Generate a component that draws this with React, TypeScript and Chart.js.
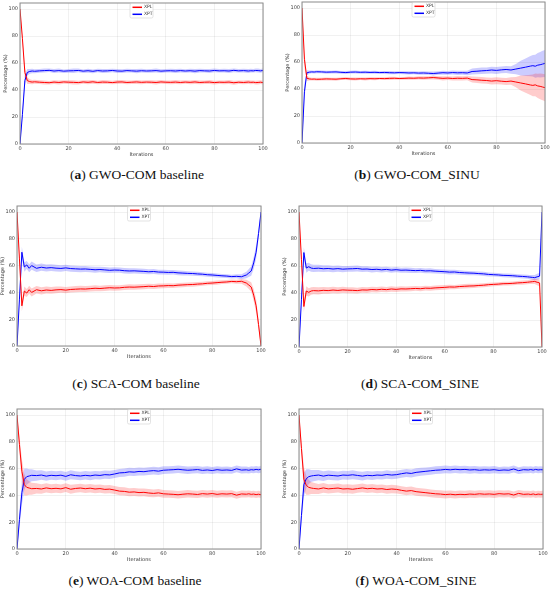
import { useEffect, useRef } from "react";
import { Chart, registerables } from "chart.js";
Chart.register(...registerables);

// ---------- data ----------
const ITERATIONS = [
  0, 1, 2, 3, 4, 5, 6,
  8, 10, 12, 14, 16, 18, 20, 22, 24, 26,
  28, 30, 32, 34, 36, 38, 40, 42, 44, 46,
  48, 50, 52, 54, 56, 58, 60, 62, 64, 66,
  68, 70, 72, 74, 76, 78, 80, 82, 84, 86,
  88, 90, 92, 94,
  95, 96, 97, 98, 99, 100,
];
const X_TICKS = [0, 20, 40, 60, 80, 100];
const Y_TICKS = [0, 20, 40, 60, 80, 100];
const SERIES_LABELS = ["XPL", "XPT"];

// (a) GWO-COM baseline
const A_XPL = [
  100, 78, 53, 47, 46.2, 45.9, 46.1,
  45.8, 45.6, 45.4, 45.9, 45.6, 46.0, 45.8, 45.7, 45.5, 46.0,
  45.7, 46.1, 45.6, 45.9, 45.8, 45.5, 45.9, 46.0, 45.6, 45.8,
  46.0, 45.7, 45.9, 45.8, 45.6, 46.0, 45.8, 45.7, 45.9, 45.6,
  45.9, 45.7, 46.0, 45.6, 45.8, 45.9, 45.5, 45.8, 45.7, 45.9,
  45.4, 45.8, 45.6, 45.9,
  45.7, 45.8, 45.5, 45.6, 45.8, 45.5,
];
const A_XPT = [
  0, 22, 47, 53, 53.8, 54.1, 53.9,
  54.2, 54.4, 54.6, 54.1, 54.4, 54.0, 54.2, 54.3, 54.5, 54.0,
  54.3, 53.9, 54.4, 54.1, 54.2, 54.5, 54.1, 54.0, 54.4, 54.2,
  54.0, 54.3, 54.1, 54.2, 54.4, 54.0, 54.2, 54.3, 54.1, 54.4,
  54.1, 54.3, 54.0, 54.4, 54.2, 54.1, 54.5, 54.2, 54.3, 54.1,
  54.6, 54.2, 54.4, 54.1,
  54.3, 54.2, 54.5, 54.4, 54.2, 54.5,
];
const A_STD = [
  0, 3, 4, 2.5, 1.8, 1.6, 1.5,
  1.4, 1.5, 1.3, 1.4, 1.5, 1.3, 1.4, 1.6, 1.4, 1.3,
  1.5, 1.4, 1.3, 1.5, 1.4, 1.3, 1.5, 1.4, 1.4, 1.3,
  1.5, 1.4, 1.3, 1.4, 1.5, 1.4, 1.3, 1.4, 1.5, 1.4,
  1.3, 1.4, 1.5, 1.4, 1.3, 1.5, 1.4, 1.3, 1.4, 1.5,
  1.4, 1.3, 1.4, 1.5,
  1.4, 1.3, 1.4, 1.5, 1.4, 1.4,
];

// (b) GWO-COM_SINU
const B_XPL = [
  100, 62, 48, 47.5, 47.3, 47.4, 47.2,
  47.3, 47.5, 47.4, 47.3, 47.6, 47.8, 47.5, 47.4, 47.6, 47.5,
  47.7, 47.6, 47.8, 47.7, 47.9, 48.0, 47.8, 47.9, 48.1, 48.0,
  48.2, 48.1, 48.3, 48.5, 48.2, 47.9, 48.1, 47.8, 48.0, 47.9,
  48.1, 47.0, 46.8, 46.5, 46.3, 45.9, 46.2, 45.8, 45.5, 45.9,
  45.2, 44.5, 43.8, 43.0,
  42.7, 43.1, 42.3, 42.0, 41.5, 41.0,
];
const B_XPT = [
  0, 38, 52, 52.5, 52.7, 52.6, 52.8,
  52.7, 52.5, 52.6, 52.7, 52.4, 52.2, 52.5, 52.6, 52.4, 52.5,
  52.3, 52.4, 52.2, 52.3, 52.1, 52.0, 52.2, 52.1, 51.9, 52.0,
  51.8, 51.9, 51.7, 51.5, 51.8, 52.1, 51.9, 52.2, 52.0, 52.1,
  51.9, 53.0, 53.2, 53.5, 53.7, 54.1, 53.8, 54.2, 54.5, 54.1,
  54.8, 55.5, 56.2, 57.0,
  57.3, 56.9, 57.7, 58.0, 58.5, 59.0,
];
const B_STD = [
  0, 6, 2, 1.2, 1.0, 1.0, 1.1,
  1.0, 1.1, 1.0, 1.1, 1.0, 1.1, 1.0, 1.1, 1.0, 1.1,
  1.0, 1.1, 1.0, 1.1, 1.2, 1.1, 1.0, 1.1, 1.2, 1.1,
  1.2, 1.3, 1.2, 1.4, 1.3, 1.5, 1.4, 1.5, 1.6, 1.5,
  1.6, 2.2, 2.3, 2.4, 2.3, 2.5, 2.6, 2.5, 2.6, 2.8,
  3.8, 5.5, 6.5, 7.5,
  8.0, 8.5, 9.0, 9.5, 9.8, 10.0,
];

// (c) SCA-COM baseline
const C_XPL = [
  100, 65, 30, 41, 39.5, 42, 40,
  42, 41.2, 41.8, 41.5, 41.9, 42.1, 41.7, 42.2, 42.4, 42.6,
  42.5, 42.8, 43.1, 42.9, 43.2, 43.5, 43.3, 43.4, 43.8, 44.0,
  43.9, 44.1, 44.3, 44.6, 44.4, 44.8, 44.9, 45.1, 45.0, 45.4,
  45.6, 45.8, 45.9, 46.2, 46.4, 46.8, 47.0, 47.3, 47.6, 47.8,
  48.2, 48.0, 48.3, 47.0,
  45.5, 44.0, 38.0, 30.0, 16.0, 0,
];
const C_XPT = [
  0, 35, 70, 59, 60.5, 58, 60,
  58, 58.8, 58.2, 58.5, 58.1, 57.9, 58.3, 57.8, 57.6, 57.4,
  57.5, 57.2, 56.9, 57.1, 56.8, 56.5, 56.7, 56.6, 56.2, 56.0,
  56.1, 55.9, 55.7, 55.4, 55.6, 55.2, 55.1, 54.9, 55.0, 54.6,
  54.4, 54.2, 54.1, 53.8, 53.6, 53.2, 53.0, 52.7, 52.4, 52.2,
  51.8, 52.0, 51.7, 53.0,
  54.5, 56.0, 62.0, 70.0, 84.0, 100,
];
const C_STD = [
  0, 4, 4, 3.5, 3, 3, 3,
  2.8, 2.7, 2.6, 2.5, 2.5, 2.4, 2.4, 2.3, 2.3, 2.3,
  2.2, 2.2, 2.2, 2.1, 2.1, 2.1, 2.0, 2.0, 2.0, 2.0,
  2.0, 1.9, 1.9, 1.9, 1.8, 1.8, 1.8, 1.8, 1.7, 1.7,
  1.7, 1.6, 1.6, 1.6, 1.5, 1.5, 1.5, 1.5, 1.4, 1.4,
  1.4, 1.5, 1.8, 2.5,
  3.0, 3.5, 4.5, 5.0, 4.0, 0.5,
];

// (d) SCA-COM_SINE
const D_XPL = [
  100, 65, 30, 41.5, 40.5, 41.5, 41.8,
  41.6, 42.0, 41.8, 42.2, 41.9, 42.3, 42.1, 42.0, 41.8, 42.3,
  42.2, 42.6, 42.4, 42.8, 42.5, 43.0, 42.7, 43.1, 43.0, 43.2,
  43.4, 43.2, 43.6, 43.5, 43.8, 44.0, 44.2, 44.5, 44.4, 44.8,
  45.0, 45.2, 45.3, 45.6, 45.8, 46.2, 46.4, 46.6, 46.9, 47.0,
  47.2, 47.5, 47.7, 48.0,
  48.2, 48.4, 48.6, 48.0, 47.5, 0,
];
const D_XPT = [
  0, 35, 70, 58.5, 59.5, 58.5, 58.2,
  58.4, 58.0, 58.2, 57.8, 58.1, 57.7, 57.9, 58.0, 58.2, 57.7,
  57.8, 57.4, 57.6, 57.2, 57.5, 57.0, 57.3, 56.9, 57.0, 56.8,
  56.6, 56.8, 56.4, 56.5, 56.2, 56.0, 55.8, 55.5, 55.6, 55.2,
  55.0, 54.8, 54.7, 54.4, 54.2, 53.8, 53.6, 53.4, 53.1, 53.0,
  52.8, 52.5, 52.3, 52.0,
  51.8, 51.6, 51.4, 52.0, 52.5, 100,
];
const D_STD = [
  0, 4, 4, 3.5, 3, 2.8, 2.7,
  2.6, 2.5, 2.4, 2.4, 2.3, 2.3, 2.2, 2.2, 2.2, 2.1,
  2.1, 2.1, 2.0, 2.0, 2.0, 2.0, 1.9, 1.9, 1.9, 1.9,
  1.8, 1.8, 1.8, 1.8, 1.7, 1.7, 1.7, 1.7, 1.6, 1.6,
  1.6, 1.6, 1.5, 1.5, 1.5, 1.5, 1.4, 1.4, 1.4, 1.4,
  1.4, 1.4, 1.5, 1.5,
  1.6, 1.8, 2.0, 2.2, 2.4, 0.5,
];

// (e) WOA-COM baseline
const E_XPL = [
  100, 78, 58, 48, 46, 45.5, 45.0,
  45.2, 44.8, 45.6, 45.0, 45.3, 44.9, 45.8, 44.6, 45.2, 45.5,
  45.0, 45.4, 44.8, 45.1, 44.5, 44.7, 44.0, 43.2, 43.0, 42.4,
  42.6, 42.1, 42.3, 41.8, 41.5, 41.9, 41.2, 41.0, 40.8, 40.5,
  40.9, 41.2, 41.0, 40.7, 41.3, 41.0, 41.4, 40.8, 41.2, 41.0,
  41.3, 40.2, 41.1, 40.9,
  41.2, 40.8, 41.0, 40.6, 40.9, 40.5,
];
const E_XPT = [
  0, 22, 42, 52, 54, 54.5, 55.0,
  54.8, 55.2, 54.4, 55.0, 54.7, 55.1, 54.2, 55.4, 54.8, 54.5,
  55.0, 54.6, 55.2, 54.9, 55.5, 55.3, 56.0, 56.8, 57.0, 57.6,
  57.4, 57.9, 57.7, 58.2, 58.5, 58.1, 58.8, 59.0, 59.2, 59.5,
  59.1, 58.8, 59.0, 59.3, 58.7, 59.0, 58.6, 59.2, 58.8, 59.0,
  58.7, 59.8, 58.9, 59.1,
  58.8, 59.2, 59.0, 59.4, 59.1, 59.5,
];
const E_STD = [
  0, 6, 9, 8, 6, 5, 4.5,
  3.8, 3.6, 3.5, 3.4, 3.4, 3.3, 3.3, 3.3, 3.2, 3.2,
  3.2, 3.2, 3.1, 3.1, 3.1, 3.1, 3.0, 3.0, 3.0, 3.0,
  3.0, 3.0, 2.9, 2.9, 2.9, 2.9, 2.9, 2.8, 2.8, 2.8,
  2.8, 2.8, 2.7, 2.7, 2.7, 2.7, 2.7, 2.6, 2.6, 2.6,
  2.6, 2.6, 2.6, 2.5,
  2.5, 2.5, 2.5, 2.5, 2.5, 2.5,
];

// (f) WOA-COM_SINE
const F_XPL = [
  100, 75, 52, 47.5, 46, 45.5, 45.2,
  44.8, 45.6, 44.9, 45.2, 45.5, 44.8, 45.0, 44.6, 45.1, 45.6,
  45.0, 45.3, 44.8, 45.0, 44.4, 44.8, 44.5, 43.8, 43.2, 43.6,
  42.8, 42.4, 42.0, 41.6, 41.2, 41.0, 40.6, 40.9, 40.5, 40.8,
  40.6, 41.0, 40.8, 41.2, 40.9, 41.1, 40.8, 41.3, 41.0, 41.2,
  40.3, 41.5, 40.8, 41.0,
  40.7, 41.1, 40.6, 41.0, 40.8, 40.9,
];
const F_XPT = [
  0, 25, 48, 52.5, 54, 54.5, 54.8,
  55.2, 54.4, 55.1, 54.8, 54.5, 55.2, 55.0, 55.4, 54.9, 54.4,
  55.0, 54.7, 55.2, 55.0, 55.6, 55.2, 55.5, 56.2, 56.8, 56.4,
  57.2, 57.6, 58.0, 58.4, 58.8, 59.0, 59.4, 59.1, 59.5, 59.2,
  59.4, 59.0, 59.2, 58.8, 59.1, 58.9, 59.2, 58.7, 59.0, 58.8,
  59.7, 58.5, 59.2, 59.0,
  59.3, 58.9, 59.4, 59.0, 59.2, 59.1,
];
const F_STD = [
  0, 6, 9, 7, 5.5, 4.5, 4.2,
  3.8, 3.6, 3.5, 3.4, 3.4, 3.3, 3.3, 3.3, 3.2, 3.2,
  3.2, 3.2, 3.1, 3.1, 3.1, 3.1, 3.0, 3.0, 3.0, 3.0,
  3.0, 3.0, 2.9, 2.9, 2.9, 2.9, 2.9, 2.8, 2.8, 2.8,
  2.8, 2.8, 2.7, 2.7, 2.7, 2.7, 2.7, 2.6, 2.6, 2.6,
  2.6, 2.6, 2.6, 2.5,
  2.5, 2.5, 2.5, 2.5, 2.5, 2.5,
];

const PANEL_LETTERS = ["a", "b", "c", "d", "e", "f"];
const PANEL_TITLES = [
  "GWO-COM baseline",
  "GWO-COM_SINU",
  "SCA-COM baseline",
  "SCA-COM_SINE",
  "WOA-COM baseline",
  "WOA-COM_SINE",
];
const PANEL_XPL = [A_XPL, B_XPL, C_XPL, D_XPL, E_XPL, F_XPL];
const PANEL_XPT = [A_XPT, B_XPT, C_XPT, D_XPT, E_XPT, F_XPT];
const PANEL_STD = [A_STD, B_STD, C_STD, D_STD, E_STD, F_STD];

// ---------- layout (plot-area pixel boxes) ----------
const BOXES = [
  { L: 20, R: 263, T: 2.6, B: 143.3, cx: 137, cy: 175 },
  { L: 302, R: 545, T: 2.2, B: 143, cx: 417, cy: 175 },
  { L: 17, R: 261, T: 205.7, B: 346, cx: 136, cy: 384 },
  { L: 299, R: 542, T: 205.7, B: 346.5, cx: 420, cy: 384 },
  { L: 17, R: 261, T: 409, B: 549, cx: 135, cy: 580.5 },
  { L: 299, R: 543, T: 409, B: 549.3, cx: 416, cy: 580.5 },
];
const YW = 17;
const XH = 14;
const PAD_TOP = 6;
const PAD_RIGHT = 8;
const Y_MAX = 104.5;

const RED = "rgb(255,0,0)";
const BLUE = "rgb(0,0,255)";
const RED_BAND = "rgba(255,0,0,0.2)";
const BLUE_BAND = "rgba(0,0,255,0.2)";
const SERIES_COLORS = [RED, BLUE];

const framePlugin = {
  id: "frameAndLegend",
  afterDraw(chart: any) {
    const { ctx, chartArea } = chart;
    const { left, right, top, bottom } = chartArea;
    ctx.save();
    ctx.strokeStyle = "#8a8a8a";
    ctx.lineWidth = 1;
    ctx.strokeRect(left, top, right - left, bottom - top);
    // legend box inside top centre
    const bw = 23;
    const bh = 14.5;
    const bx = (left + right) / 2 - bw / 2;
    const by = top + 0.5;
    ctx.fillStyle = "rgba(255,255,255,0.85)";
    ctx.strokeStyle = "#d0d0d0";
    ctx.lineWidth = 0.6;
    ctx.beginPath();
    if ((ctx as any).roundRect) (ctx as any).roundRect(bx, by, bw, bh, 1.5);
    else ctx.rect(bx, by, bw, bh);
    ctx.fill();
    ctx.stroke();
    ctx.font = "4.5px 'DejaVu Sans'";
    ctx.textBaseline = "middle";
    SERIES_LABELS.forEach((lab, i) => {
      const y = by + 3.8 + i * 7;
      ctx.strokeStyle = SERIES_COLORS[i];
      ctx.lineWidth = 1.5;
      ctx.beginPath();
      ctx.moveTo(bx + 2.5, y);
      ctx.lineTo(bx + 12, y);
      ctx.stroke();
      ctx.fillStyle = "#333";
      ctx.fillText(lab, bx + 14, y);
    });
    ctx.restore();
  },
};

function Panel({ idx }: { idx: number }) {
  const ref = useRef<HTMLCanvasElement | null>(null);
  const box = BOXES[idx];
  const width = Math.round(box.R - box.L + YW + PAD_RIGHT);
  const height = Math.round(box.B - box.T + PAD_TOP + XH);
  useEffect(() => {
    if (!ref.current) return;
    const xpl = PANEL_XPL[idx];
    const xpt = PANEL_XPT[idx];
    const sd = PANEL_STD[idx];
    const pts = (arr: number[], k: number) =>
      ITERATIONS.map((x, i) => ({ x, y: arr[i] + k * sd[i] }));
    const bandBase = { pointRadius: 0, borderWidth: 0, order: 2, tension: 0 };
    const chart = new Chart(ref.current, {
      type: "line",
      data: {
        datasets: [
          { ...bandBase, label: "xpl-lo", data: pts(xpl, -1), fill: false, borderColor: "transparent" },
          { ...bandBase, label: "xpl-hi", data: pts(xpl, 1), fill: 0, backgroundColor: RED_BAND, borderColor: "transparent" },
          { ...bandBase, label: "xpt-lo", data: pts(xpt, -1), fill: false, borderColor: "transparent" },
          { ...bandBase, label: "xpt-hi", data: pts(xpt, 1), fill: 2, backgroundColor: BLUE_BAND, borderColor: "transparent" },
          { label: SERIES_LABELS[1], data: pts(xpt, 0), borderColor: BLUE, borderWidth: 1, pointRadius: 0, fill: false, order: 1, tension: 0 },
          { label: SERIES_LABELS[0], data: pts(xpl, 0), borderColor: RED, borderWidth: 1, pointRadius: 0, fill: false, order: 0, tension: 0 },
        ] as any,
      },
      options: {
        responsive: false,
        maintainAspectRatio: false,
        animation: false,
        layout: { padding: { top: PAD_TOP, right: PAD_RIGHT, left: 0, bottom: 0 } },
        plugins: { legend: { display: false }, tooltip: { enabled: false } },
        scales: {
          x: {
            type: "linear",
            min: 0,
            max: 100,
            afterBuildTicks: (s: any) => {
              s.ticks = X_TICKS.map((v) => ({ value: v }));
            },
            afterFit: (s: any) => {
              s.height = XH;
            },
            ticks: { font: { size: 5, family: "DejaVu Sans" }, color: "#444", padding: 2, maxRotation: 0 },
            grid: { color: "rgba(0,0,0,0.07)", drawTicks: false, lineWidth: 0.8 },
            border: { display: false },
            title: { display: true, text: "Iterations", font: { size: 5, family: "DejaVu Sans" }, color: "#333", padding: 0 },
          },
          y: {
            type: "linear",
            min: 0,
            max: Y_MAX,
            afterBuildTicks: (s: any) => {
              s.ticks = Y_TICKS.map((v) => ({ value: v }));
            },
            afterFit: (s: any) => {
              s.width = YW;
            },
            ticks: { font: { size: 5, family: "DejaVu Sans" }, color: "#444", padding: 2 },
            grid: { color: "rgba(0,0,0,0.07)", drawTicks: false, lineWidth: 0.8 },
            border: { display: false },
            title: { display: true, text: "Percentage (%)", font: { size: 5, family: "DejaVu Sans" }, color: "#333", padding: 0 },
          },
        },
      } as any,
      plugins: [framePlugin],
    });
    return () => chart.destroy();
  }, [idx]);
  return (
    <>
      <canvas
        ref={ref}
        width={width}
        height={height}
        style={{
          position: "absolute",
          left: box.L - YW,
          top: box.T - PAD_TOP,
          width,
          height,
        }}
      />
      <div
        style={{
          position: "absolute",
          left: box.cx - 120,
          width: 240,
          top: box.cy - 9,
          height: 18,
          lineHeight: "18px",
          textAlign: "center",
          fontFamily: "'Liberation Serif', serif",
          fontSize: 13.5,
          fontWeight: 400,
          color: "#111",
          whiteSpace: "nowrap",
        }}
      >
        (<b>{PANEL_LETTERS[idx]}</b>) {PANEL_TITLES[idx]}
      </div>
    </>
  );
}

export default function App() {
  return (
    <div
      style={{
        position: "fixed",
        left: 0,
        top: 0,
        width: 550,
        height: 589,
        overflow: "hidden",
        background: "#fff",
      }}
    >
      {PANEL_LETTERS.map((_, i) => (
        <Panel key={i} idx={i} />
      ))}
    </div>
  );
}
